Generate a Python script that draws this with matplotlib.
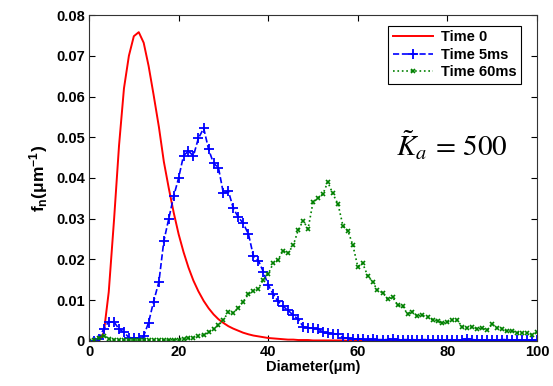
import matplotlib
matplotlib.use("Agg")
import matplotlib.pyplot as plt

plt.rcParams['font.family'] = ['Liberation Sans', 'DejaVu Sans']
plt.rcParams['mathtext.fontset'] = 'custom'
plt.rcParams['mathtext.rm'] = 'Liberation Sans:bold'
plt.rcParams['mathtext.it'] = 'Liberation Sans:bold'
plt.rcParams['mathtext.bf'] = 'Liberation Sans:bold'
plt.rcParams['mathtext.default'] = 'rm'

diameter = [0.0, 1.1, 2.2, 3.3, 4.4, 5.6, 6.7, 7.8, 8.9, 10.0,
            11.1, 12.2, 13.3, 14.4, 15.6, 16.7, 17.8, 18.9, 20.0,
            21.1, 22.2, 23.3, 24.4, 25.6, 26.7, 27.8, 28.9, 30.0,
            31.1, 32.2, 33.3, 34.4, 35.6, 36.7, 37.8, 38.9, 40.0,
            41.1, 42.2, 43.3, 44.4, 45.6, 46.7, 47.8, 48.9, 50.0,
            51.1, 52.2, 53.3, 54.4, 55.6, 56.7, 57.8, 58.9, 60.0,
            61.1, 62.2, 63.3, 64.4, 65.6, 66.7, 67.8, 68.9, 70.0,
            71.1, 72.2, 73.3, 74.4, 75.6, 76.7, 77.8, 78.9, 80.0,
            81.1, 82.2, 83.3, 84.4, 85.6, 86.7, 87.8, 88.9, 90.0,
            91.1, 92.2, 93.3, 94.4, 95.6, 96.7, 97.8, 98.9, 100.0]

time0 = [0.0, 0.0, 0.0, 0.002, 0.012, 0.030, 0.048, 0.062, 0.070, 0.0748,
         0.0758, 0.0732, 0.0675, 0.0605, 0.0525, 0.044, 0.0375, 0.0315, 0.0262,
         0.0218, 0.018, 0.0148, 0.0122, 0.0098, 0.0080, 0.0065, 0.0053, 0.0044,
         0.0036, 0.0030, 0.0025, 0.0020, 0.0016, 0.0013, 0.0011, 0.0009, 0.0007,
         0.0006, 0.0005, 0.0004, 0.0003, 0.0003, 0.0002, 0.0002, 0.0002, 0.0001,
         0.0001, 0.0001, 0.0001, 0.0001, 0.0001, 0.0001, 0.0, 0.0, 0.0,
         0.0, 0.0, 0.0, 0.0, 0.0, 0.0, 0.0, 0.0, 0.0,
         0.0, 0.0, 0.0, 0.0, 0.0, 0.0, 0.0, 0.0, 0.0,
         0.0, 0.0, 0.0, 0.0, 0.0, 0.0, 0.0, 0.0, 0.0,
         0.0, 0.0, 0.0, 0.0, 0.0, 0.0, 0.0, 0.0, 0.0]

time5ms = [0.0, 0.0, 0.0005, 0.003, 0.0047, 0.0046, 0.0029, 0.0021, 0.0008, 0.0007,
           0.0007, 0.0012, 0.0045, 0.0096, 0.0145, 0.0245, 0.030, 0.0355, 0.040,
           0.0455, 0.0466, 0.0454, 0.0497, 0.0522, 0.0470, 0.0436, 0.0425, 0.0362,
           0.0368, 0.0326, 0.0304, 0.0289, 0.0262, 0.0208, 0.0197, 0.0170, 0.0137,
           0.0115, 0.0097, 0.0085, 0.0075, 0.0063, 0.0053, 0.0035, 0.0031, 0.0031,
           0.0030, 0.0021, 0.0019, 0.0018, 0.0016, 0.0008, 0.0006, 0.0005, 0.0004,
           0.0004, 0.0003, 0.0004, 0.0003, 0.0003, 0.0003, 0.0004, 0.0003, 0.0003,
           0.0003, 0.0003, 0.0002, 0.0003, 0.0003, 0.0002, 0.0003, 0.0002, 0.0002,
           0.0003, 0.0002, 0.0002, 0.0004, 0.0003, 0.0002, 0.0002, 0.0002, 0.0002,
           0.0002, 0.0003, 0.0003, 0.0002, 0.0002, 0.0002, 0.0002, 0.0002, 0.0002]

time60ms = [0.0, 0.0002, 0.0008, 0.0013, 0.0005, 0.0003, 0.0002, 0.0002, 0.0002, 0.0002,
            0.0002, 0.0002, 0.0002, 0.0002, 0.0002, 0.0002, 0.0002, 0.0003, 0.0003,
            0.0004, 0.0006, 0.0008, 0.0011, 0.0015, 0.0021, 0.0029, 0.0038, 0.0052,
            0.0070, 0.0069, 0.0080, 0.0096, 0.0115, 0.0123, 0.0128, 0.0150, 0.0164,
            0.0190, 0.0199, 0.0221, 0.0215, 0.0235, 0.0272, 0.0295, 0.0275, 0.0340,
            0.0350, 0.0360, 0.0390, 0.0362, 0.0335, 0.0282, 0.0270, 0.0235, 0.0182,
            0.0190, 0.0160, 0.0145, 0.0124, 0.0118, 0.0102, 0.0107, 0.0088, 0.0085,
            0.0066, 0.0072, 0.0061, 0.0063, 0.0058, 0.0052, 0.0049, 0.0043, 0.0046,
            0.0051, 0.0050, 0.0035, 0.0031, 0.0034, 0.0030, 0.0031, 0.0026, 0.0041,
            0.0032, 0.0030, 0.0023, 0.0025, 0.0020, 0.0019, 0.0019, 0.0015, 0.0021]

series_labels = ['Time 0', 'Time 5ms', 'Time 60ms']
x_ticks = [0, 20, 40, 60, 80, 100]
y_ticks = [0, 0.01, 0.02, 0.03, 0.04, 0.05, 0.06, 0.07, 0.08]
y_tick_labels = ['0', '0.01', '0.02', '0.03', '0.04', '0.05', '0.06', '0.07', '0.08']

fig = plt.figure(figsize=(5.53, 3.86), dpi=100)
ax = fig.add_axes([0.161, 0.117, 0.81, 0.844])

ax.plot(diameter, time0, color='red', lw=1.4, label=series_labels[0])
ax.plot(diameter, time5ms, color='blue', lw=1.2, ls='--', marker='+',
        markersize=7, markeredgewidth=1.3, label=series_labels[1])
ax.plot(diameter, time60ms, color='#008000', lw=1.2, ls=':', marker='x',
        markersize=3.5, markeredgewidth=1.2, label=series_labels[2])

ax.set_xlim(0, 100)
ax.set_ylim(0, 0.08)
ax.set_xticks(x_ticks)
ax.set_yticks(y_ticks)
ax.set_yticklabels(y_tick_labels)
ax.tick_params(direction='in', top=True, right=True, length=4, width=0.8,
               labelsize=10.5, pad=3)
for lab in ax.get_xticklabels() + ax.get_yticklabels():
    lab.set_fontweight('bold')
for sp in ax.spines.values():
    sp.set_linewidth(0.8)
    sp.set_color('#333333')

ax.set_xlabel('Diameter(μm)', fontsize=10.5, fontweight='bold', labelpad=1)
ax.set_ylabel(r'$\mathrm{f_n}$(μm$^{\mathrm{-1}}$)', fontsize=12.5,
              fontweight='bold', labelpad=4)

leg = ax.legend(loc='upper right', bbox_to_anchor=(0.98, 0.99), fancybox=False,
                edgecolor='black', framealpha=1, borderpad=0.3, labelspacing=0.25,
                handlelength=2.8, handletextpad=0.5, prop={'weight': 'bold', 'size': 10.5})
leg.get_frame().set_linewidth(0.8)

ax.text(81.0, 0.048, r'$\tilde{\mathit{K}}_{\mathit{a}}\,\mathrm{=}\,\mathrm{500}$',
        fontsize=21, ha='center', va='center', math_fontfamily='stix')

fig.savefig('out.png', dpi=100)
